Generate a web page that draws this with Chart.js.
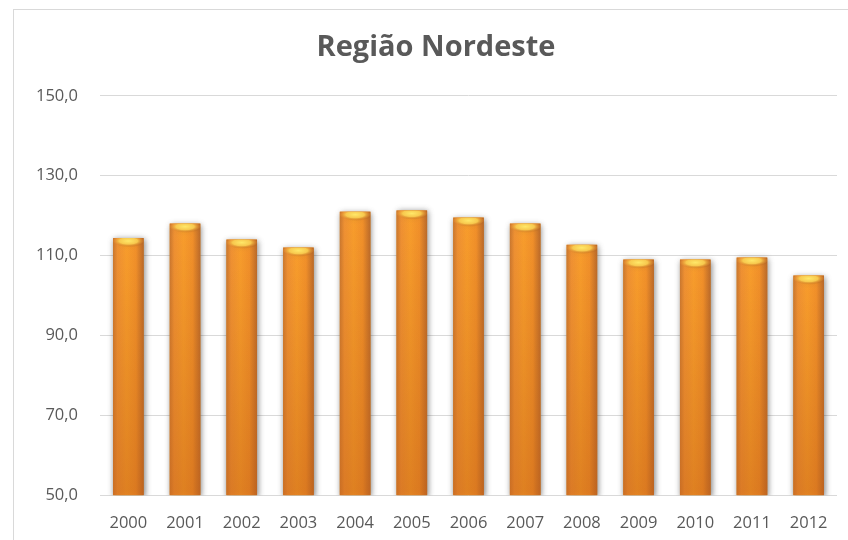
<!DOCTYPE html>
<html>
<head>
<meta charset="utf-8">
<script src="https://cdn.jsdelivr.net/npm/chart.js@4"></script>
<style>
  html, body { margin: 0; padding: 0; background: #fff; overflow: hidden; }
  #box {
    position: absolute; left: 13px; top: 9px; width: 900px; height: 580px;
    border-top: 1px solid #d9d9d9; border-left: 1px solid #d9d9d9;
  }
  #wrap { position: absolute; left: 0; top: 0; width: 844px; height: 550px; }
</style>
</head>
<body>
<div id="box"><div id="wrap"><canvas id="myChart"></canvas></div></div>
<script>
const years = ["2000", "2001", "2002", "2003", "2004", "2005", "2006", "2007", "2008", "2009", "2010", "2011", "2012"];
const values = [114.4, 118.0, 114.0, 112.0, 121.0, 121.3, 119.5, 118.0, 112.7, 109.0, 109.0, 109.5, 105.0];
const yTicks = [50, 70, 90, 110, 130, 150];
const chartTitle = "Região Nordeste";

// paints the cylinder look over each bar the library placed
const cylinderPlugin = {
  id: "cylinder",
  afterDatasetsDraw(chart) {
    const ctx = chart.ctx;
    const area = chart.chartArea;
    const meta = chart.getDatasetMeta(0);
    ctx.save();
    ctx.beginPath();
    ctx.rect(area.left, area.top, area.right - area.left, area.bottom - area.top);
    ctx.clip();
    meta.data.forEach((bar) => {
      const p = bar.getProps(["x", "y", "base", "width"], true);
      const left = p.x - p.width / 2;
      const right = p.x + p.width / 2;
      const bottom = Math.min(p.base, area.bottom);
      const h = bottom - p.y;

      // body shading across the bar
      const g = ctx.createLinearGradient(left, 0, right, 0);
      g.addColorStop(0, "#c9772f");
      g.addColorStop(0.15, "#ef9133");
      g.addColorStop(0.45, "#f89d2c");
      g.addColorStop(0.75, "#f1902a");
      g.addColorStop(1, "#b9692a");
      ctx.fillStyle = g;
      ctx.fillRect(left, p.y, p.width, h);

      // darker towards the base
      const gv = ctx.createLinearGradient(0, p.y, 0, bottom);
      gv.addColorStop(0, "rgba(230,120,20,0)");
      gv.addColorStop(1, "rgba(215,100,20,0.35)");
      ctx.fillStyle = gv;
      ctx.fillRect(left, p.y, p.width, h);

      // yellow top cap
      ctx.save();
      ctx.beginPath();
      ctx.rect(left, p.y, p.width, 12);
      ctx.clip();
      ctx.translate(p.x, p.y + 3);
      ctx.scale(1, 0.35);
      const cap = ctx.createRadialGradient(0, 0, 0, 0, 0, p.width / 2);
      cap.addColorStop(0, "rgba(255,232,105,1)");
      cap.addColorStop(0.6, "rgba(250,205,80,0.95)");
      cap.addColorStop(1, "rgba(240,150,50,0.15)");
      ctx.fillStyle = cap;
      ctx.beginPath();
      ctx.arc(0, 0, p.width / 2, 0, Math.PI * 2);
      ctx.fill();
      ctx.restore();
    });
    ctx.restore();
  }
};

function mainEvent() {
  const target = document.querySelector("#myChart");
  Chart.defaults.font.family = "'Open Sans', 'Noto Sans', sans-serif";

  new Chart(target, {
    type: "bar",
    data: {
      labels: years,
      datasets: [{
        data: values,
        backgroundColor: "#f39a2c",
        borderWidth: 0,
        categoryPercentage: 1.0,
        barPercentage: 0.54
      }]
    },
    plugins: [cylinderPlugin, {
      id: "shadow",
      beforeDatasetsDraw(chart) {
        chart.ctx.save();
        chart.ctx.shadowColor = "rgba(0,0,0,0.25)";
        chart.ctx.shadowBlur = 6;
        chart.ctx.shadowOffsetX = 1;
        chart.ctx.shadowOffsetY = 1;
      },
      afterDatasetsDraw(chart) {
        chart.ctx.restore();
      }
    }],
    options: {
      responsive: true,
      maintainAspectRatio: false,
      animation: false,
      layout: { padding: { top: 0, right: 21, bottom: 9, left: 21 } },
      plugins: {
        legend: { display: false },
        tooltip: { enabled: false },
        title: {
          display: true,
          text: chartTitle,
          color: "#595959",
          font: { size: 29, weight: "bold" },
          padding: { top: 20, bottom: 31 }
        }
      },
      scales: {
        x: {
          grid: { display: false, drawTicks: false },
          border: { display: false },
          ticks: { color: "#595959", font: { size: 16.5 }, padding: 18, maxRotation: 0 }
        },
        y: {
          min: 50,
          max: 150,
          afterBuildTicks: (axis) => { axis.ticks = yTicks.map((v) => ({ value: v })); },
          afterFit: (axis) => { axis.width = 65; },
          grid: { color: "#d9d9d9", lineWidth: 1, drawTicks: false },
          border: { display: false },
          ticks: {
            color: "#595959",
            font: { size: 16.5 },
            padding: 22,
            callback: (v) => v.toFixed(1).replace(".", ",")
          }
        }
      }
    }
  });
}

document.addEventListener("DOMContentLoaded", () => mainEvent());
</script>
</body>
</html>
